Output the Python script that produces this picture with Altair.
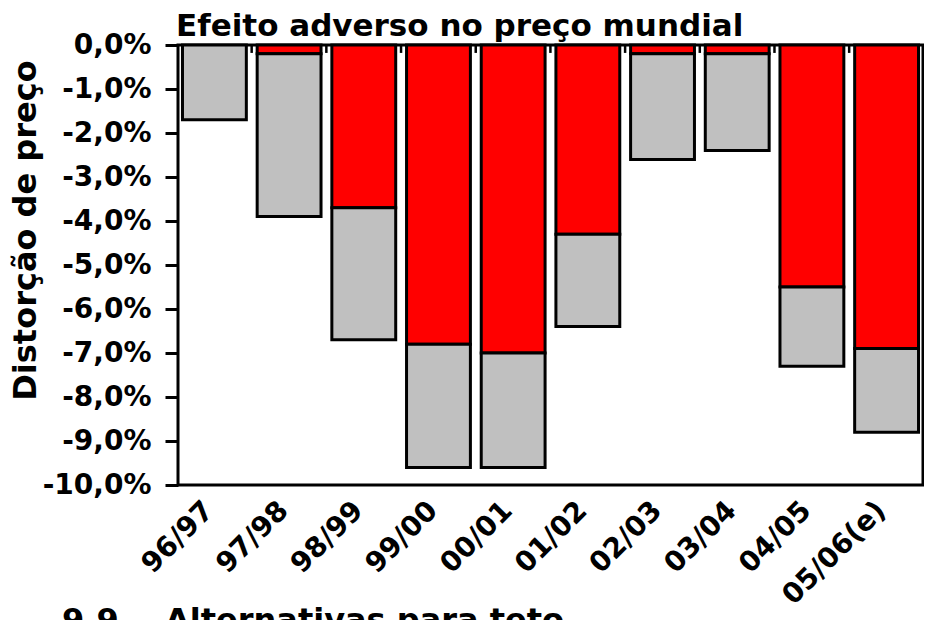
import altair as alt
import pandas as pd

categories = ["96/97", "97/98", "98/99", "99/00", "00/01", "01/02", "02/03", "03/04", "04/05", "05/06(e)"]
red_part = [0.0, -0.2, -3.7, -6.8, -7.0, -4.3, -0.2, -0.2, -5.5, -6.9]
grey_part = [-1.7, -3.7, -3.0, -2.8, -2.6, -2.1, -2.4, -2.2, -1.8, -1.9]
y_ticks = [0, -1, -2, -3, -4, -5, -6, -7, -8, -9, -10]
chart_title = "Efeito adverso no preço mundial"
next_section = ["9.9", "Alternativas para teto"]

FONT = "DejaVu Sans"

rows = []
for c, r, g in zip(categories, red_part, grey_part):
    if r != 0:
        rows.append({"cat": c, "series": "red", "start": 0.0, "end": r})
    rows.append({"cat": c, "series": "grey", "start": r, "end": round(r + g, 3)})
df = pd.DataFrame(rows)

df_ticks = pd.DataFrame({"cat": categories[1:], "y0": [0.0] * 9, "y1": [-0.18] * 9})

x_scale = alt.Scale(domain=categories, paddingInner=0.145, paddingOuter=0.06)
y_scale = alt.Scale(domain=[-10, 0], nice=False, zero=False)

bars = alt.Chart(df).mark_bar(stroke="black", strokeWidth=3).encode(
    x=alt.X("cat:N", sort=categories, scale=x_scale,
            axis=alt.Axis(title=None, labelAngle=315, labelAlign="right", labelBaseline="middle",
                          labelFont=FONT, labelFontWeight="bold", labelFontSize=28,
                          labelColor="black", labelPadding=21, labelOffset=-5,
                          ticks=False, domain=False)),
    y=alt.Y("start:Q", scale=y_scale,
            axis=alt.Axis(values=y_ticks, grid=False, domain=False,
                          labelExpr="replace(replace(format(datum.value, '.1f'), '.', ','), '\u2212', '-') + '%'",
                          labelFont=FONT, labelFontWeight="bold", labelFontSize=28, labelColor="black",
                          labelPadding=14, tickSize=13, tickWidth=3, tickColor="black",
                          title="Distorção de preço", titleFont=FONT, titleFontWeight="bold",
                          titleFontSize=32, titleColor="black", titleAngle=270,
                          titleAlign="center", titleBaseline="alphabetic",
                          titleX=-143, titleY=185)),
    y2="end:Q",
    color=alt.Color("series:N", scale=alt.Scale(domain=["red", "grey"], range=["#FF0000", "#C0C0C0"]),
                    legend=None),
)

top_ticks = alt.Chart(df_ticks).mark_rule(color="black", strokeWidth=2.5, xOffset=-5.5).encode(
    x=alt.X("cat:N", sort=categories, scale=x_scale, bandPosition=0),
    y=alt.Y("y0:Q", scale=y_scale),
    y2="y1:Q",
)

title_text = alt.Chart(pd.DataFrame({"t": [chart_title]})).mark_text(
    align="left", baseline="alphabetic", x=-2, y=-9, font=FONT, fontWeight="bold",
    fontSize=31, color="black").encode(text="t:N")

sec_num = alt.Chart(pd.DataFrame({"t": [next_section[0]]})).mark_text(
    align="left", baseline="alphabetic", x=-116, y=586, font=FONT, fontWeight="bold",
    fontSize=32, color="black").encode(text="t:N")
sec_title = alt.Chart(pd.DataFrame({"t": [next_section[1]]})).mark_text(
    align="left", baseline="alphabetic", x=-13, y=586, font=FONT, fontWeight="bold",
    fontSize=32, color="black").encode(text="t:N")

chart = alt.layer(bars, top_ticks, title_text, sec_num, sec_title).properties(
    width=745, height=440,
    background="white",
    autosize=alt.AutoSizeParams(type="none"),
    padding={"left": 170, "top": 37, "right": 1, "bottom": 135},
).configure_view(stroke="black", strokeWidth=3)

chart.save("out.html", embed_options={"renderer": "svg", "actions": False})
